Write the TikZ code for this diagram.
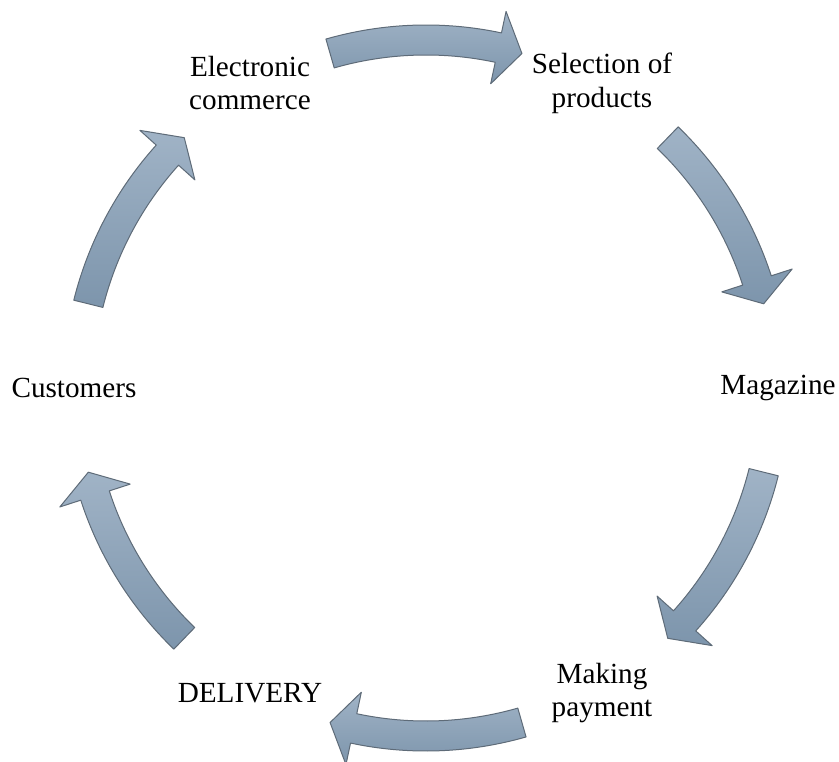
\documentclass[tikz,border=0pt]{standalone}
\usepackage{fontspec}
\setmainfont{Liberation Serif}
\usepackage{xcolor}
\usepackage{tikz}
\usetikzlibrary{calc, positioning}

\definecolor{arrowtop}{HTML}{A0B3C6}
\definecolor{arrowbottom}{HTML}{7D95AC}
\definecolor{arrowedge}{HTML}{5E6B78}

\begin{document}
\begin{tikzpicture}[
    x=0.5pt, y=0.5pt,
    stagetext/.style={align=center, inner sep=0pt, font=\fontsize{14.6}{16.8}\selectfont},
    cyclearrow/.style={draw=arrowedge, line width=0.5pt, line join=round, top color=arrowtop, bottom color=arrowbottom}
]
\useasboundingbox (0,0) rectangle (839,761);
\coordinate (hub) at (426,373);

% stages round the cycle
\node[stagetext] (ecom) at ($(hub)+(120:352)$) {Electronic\\commerce};
\node[stagetext] (select) at ($(hub)+(60:352)$) {Selection of\\products};
\node[stagetext] (mag) at ($(hub)+(0:352)$) {Magazine};
\node[stagetext] (pay) at ($(hub)+(-60:352)$) {Making\\payment};
\node[stagetext] (deliv) at ($(hub)+(-120:352)$) {DELIVERY};
\node[stagetext] (cust) at ($(hub)+(180:352)$) {Customers};

% curved block arrows between the stages
\foreach \c in {90,30,-30,-90,-150,150} {
  \pgfmathsetmacro{\t}{\c+16}
  \pgfmathsetmacro{\b}{\c-12}
  \pgfmathsetmacro{\p}{\c-16}
  \draw[cyclearrow] ($(hub)+(\t:363)$) arc[start angle=\t, end angle=\b, radius=363]
    -- ($(hub)+(\b:385)$) -- ($(hub)+(\p:348)$) -- ($(hub)+(\b:311)$) -- ($(hub)+(\b:333)$)
    arc[start angle=\b, end angle=\t, radius=333] -- cycle;
}
\end{tikzpicture}
\end{document}
